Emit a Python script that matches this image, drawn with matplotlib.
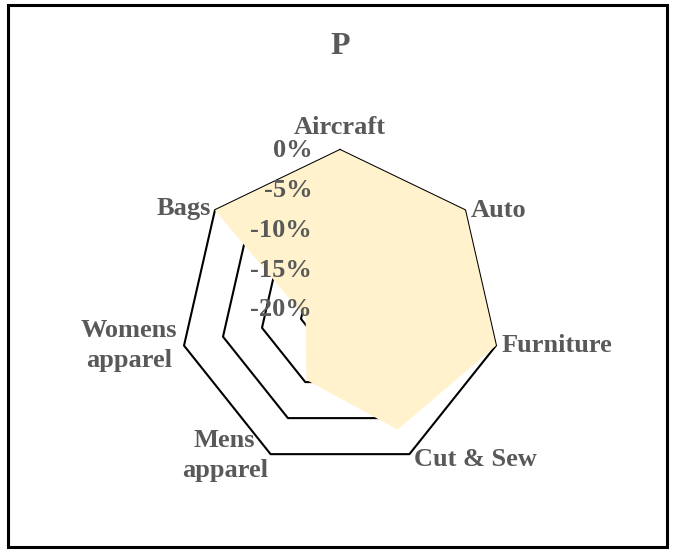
import numpy as np
import matplotlib
matplotlib.use("Agg")
import matplotlib.pyplot as plt
from matplotlib.patches import Rectangle

# ========== 1. Data ==========
categories = ["Aircraft", "Auto", "Furniture", "Cut & Sew",
              "Mens\napparel", "Womens\napparel", "Bags"]
values = [0.0, 0.0, 0.0, -3.4, -10.3, -15.6, 0.0]   # percent
ring_levels = [0, -5, -10, -15, -20]
ring_labels = ["0%", "-5%", "-10%", "-15%", "-20%"]
title = "P"

# ========== 2. Style ==========
text_color = "#595959"
fill_color = "#FFF2CC"
font = "Liberation Serif"
fs = 19

n = len(categories)
angles = np.arange(n) * 2 * np.pi / n
closed = np.append(angles, angles[0])

fig = plt.figure(figsize=(6.75, 5.52), dpi=100)
ax = fig.add_axes([180 / 675, 82 / 552, 320 / 675, 320 / 552], polar=True)
ax.set_theta_offset(np.pi / 2)
ax.set_theta_direction(-1)
ax.set_ylim(-20, 0)

# polygon grid rings (behind the fill)
for lvl in ring_levels[:-1]:
    ax.plot(closed, [lvl] * (n + 1), color="black", lw=1.5, zorder=1,
            clip_on=False)

# filled series
vals = np.append(values, values[0])
ax.fill(closed, vals, color=fill_color, lw=0, zorder=2)

ax.grid(False)
ax.spines["polar"].set_visible(False)
ax.set_xticks([])
ax.set_yticks([])
ax.patch.set_alpha(0)

# radial labels along the vertical axis
for lvl, lab in zip(ring_levels, ring_labels):
    ax.annotate(lab, (0, lvl), xytext=(-20, 0), textcoords="offset points",
                ha="right", va="center", fontsize=fs, fontweight="bold",
                color=text_color, family=font, zorder=3, annotation_clip=False)

# category labels (offsets in points)
label_pos = [
    ((0, 16), "center", "center"),
    ((4, 0), "left", "center"),
    ((4, 0), "left", "center"),
    ((3, -4), "left", "center"),
    ((-33, -1), "center", "center"),
    ((-5, 0), "right", "center"),
    ((-3, 1), "right", "center"),
]
for ang, cat, (off, ha, va) in zip(angles, categories, label_pos):
    ax.annotate(cat, (ang, 0), xytext=off, textcoords="offset points",
                ha=ha, va=va, multialignment="center", fontsize=fs,
                fontweight="bold", color=text_color, family=font,
                linespacing=1.4, annotation_clip=False)

fig.text(340 / 675, 1 - 47 / 552, title, ha="center", va="center",
         fontsize=23, fontweight="bold", color=text_color, family=font)

# chart border
fig.patches.append(Rectangle((8 / 675, 5 / 552), 659 / 675, 542 / 552,
                             transform=fig.transFigure, fill=False,
                             edgecolor="black", lw=2.2))

fig.savefig("out.png", dpi=100)
